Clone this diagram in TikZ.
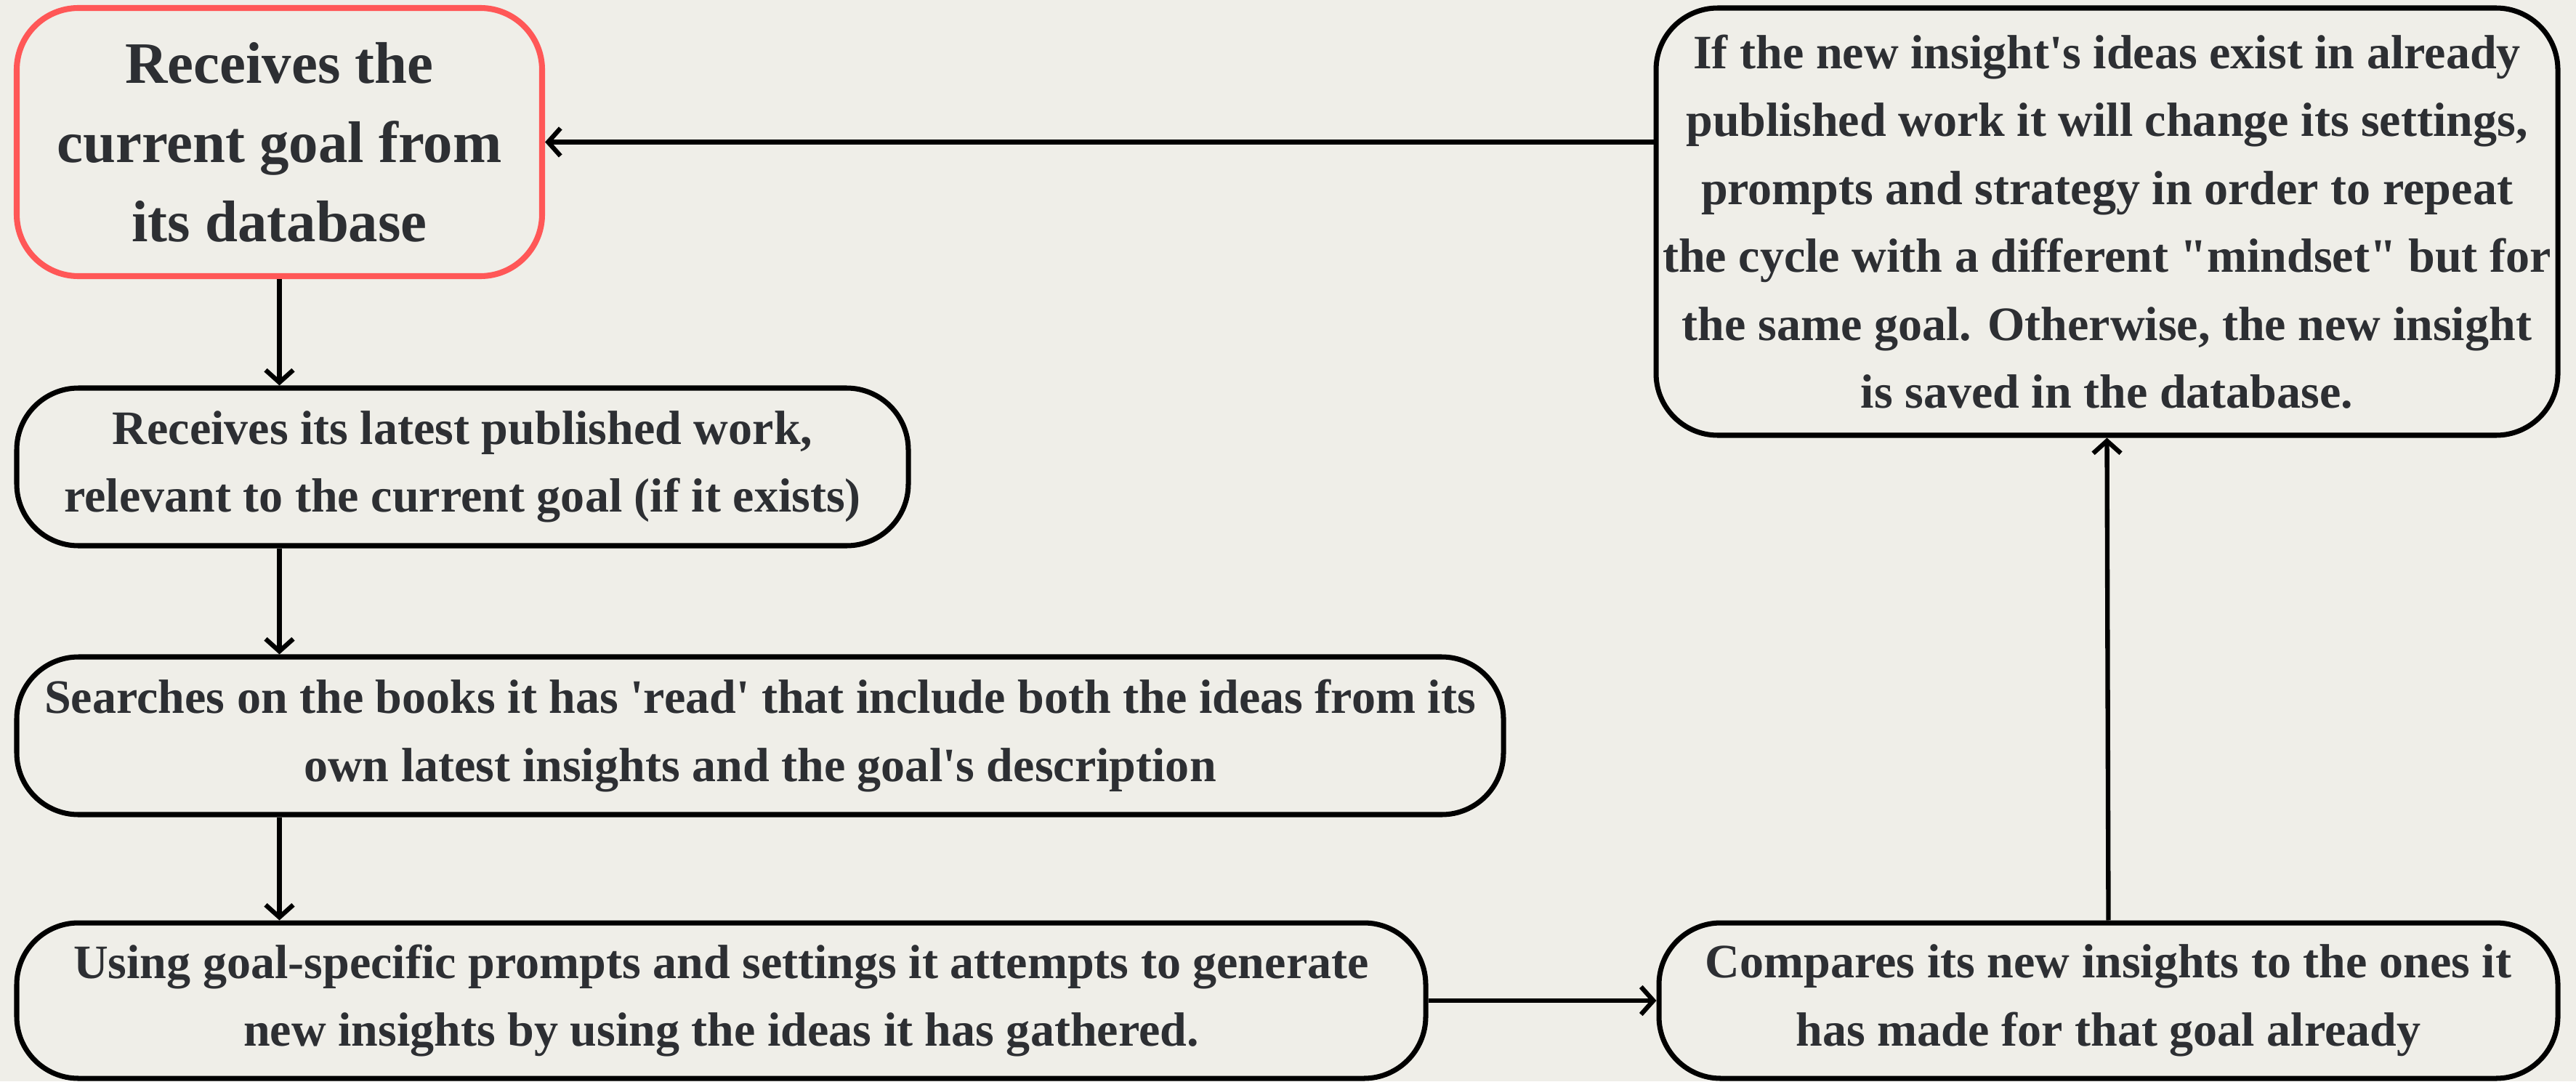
\documentclass[tikz,border=0pt]{standalone}
\usepackage{fontspec}
\setmainfont{Liberation Serif}
\usetikzlibrary{arrows.meta}
\definecolor{paper}{HTML}{EFEEE8}
\definecolor{ink}{HTML}{2D2F33}
\definecolor{salmon}{HTML}{FF5757}
\tikzset{
    stepbox/.style={draw=black,line width=2pt,rounded corners=0.85cm,fill=paper,text=ink,
        align=center,inner sep=0pt,font=\bfseries\fontsize{18.8}{26.6}\selectfont},
    flow/.style={-{Straight Barb[length=0.17cm,width=0.38cm]},line width=1.8pt,black},
}

\begin{document}
\begin{tikzpicture}
\fill[paper] (0,0) rectangle (35.45,14.88);
\useasboundingbox (0,0) rectangle (35.45,14.88);
\node[stepbox,draw=salmon,line width=2.3pt,minimum width=7.23cm,minimum height=3.69cm,
    font=\bfseries\fontsize{23}{31}\selectfont] (goal) at (3.845,12.925)
    {Receives the\\current goal from\\its database};
\node[stepbox,minimum width=12.27cm,minimum height=2.17cm] (latest) at (6.365,8.455)
    {Receives its latest published work,\\relevant to the current goal (if it exists)};
\node[stepbox,minimum width=20.46cm,minimum height=2.17cm] (books) at (10.46,4.755)
    {Searches on the books it has \textquotesingle read\textquotesingle{} that include both the ideas from its\\own latest insights and the goal\textquotesingle s description};
\node[stepbox,minimum width=19.39cm,minimum height=2.14cm] (generate) at (9.925,1.11)
    {Using goal-specific prompts and settings it attempts to generate\\new insights by using the ideas it has gathered.};
\node[stepbox,minimum width=12.37cm,minimum height=2.14cm] (compare) at (29.015,1.11)
    {Compares its new insights to the ones it\\has made for that goal already};
\node[stepbox,minimum width=12.41cm,minimum height=5.88cm] (decide) at (28.995,11.83)
    {If the new insight\textquotesingle s ideas exist in already\\published work it will change its settings,\\prompts and strategy in order to repeat\\the cycle with a different \textquotedbl mindset\textquotedbl{} but for\\the same goal. Otherwise, the new insight\\is saved in the database.};
% connectors
\draw[flow] (goal.south) -- (goal.south |- latest.north);
\draw[flow] (goal.south |- latest.south) -- (goal.south |- books.north);
\draw[flow] (goal.south |- books.south) -- (goal.south |- generate.north);
\draw[flow] (generate.east) -- (compare.west);
\draw[flow] (compare.north) -- (decide.south);
\draw[flow] (decide.west |- goal.east) -- (goal.east);
\end{tikzpicture}
\end{document}
